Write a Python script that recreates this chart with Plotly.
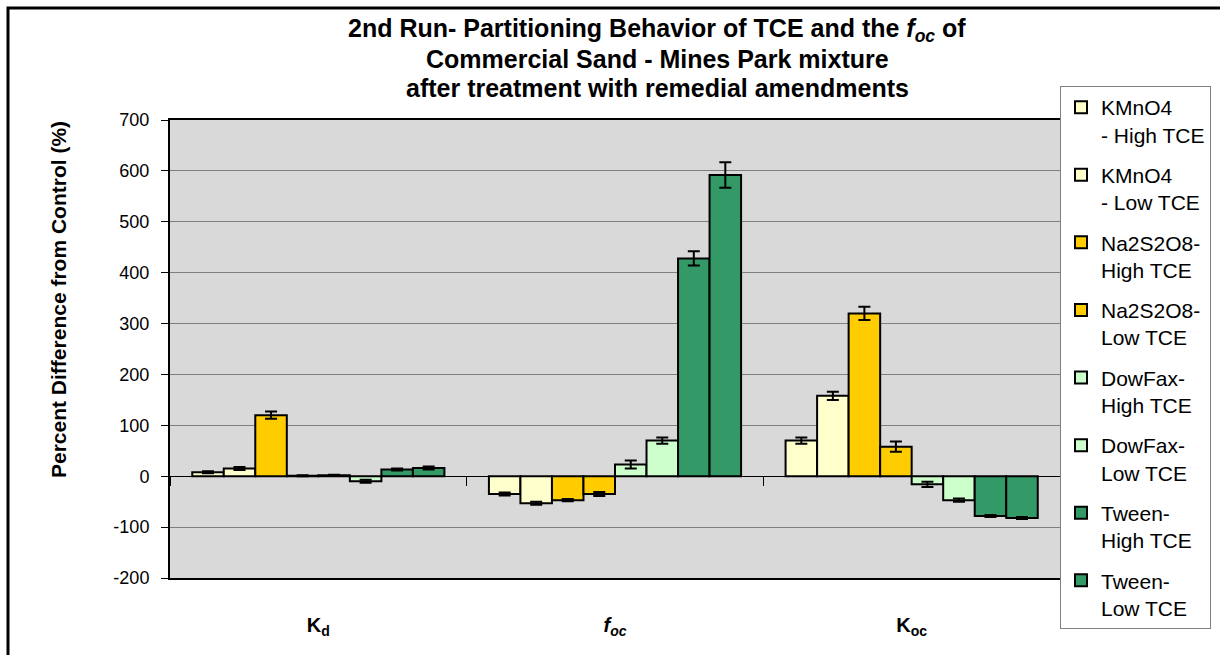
import plotly.graph_objects as go

categories = ["<b>K<sub>d</sub></b>", "<b><i>f</i><sub><i>oc</i></sub></b>", "<b>K<sub>oc</sub></b>"]
series_names = [
    "KMnO4<br>- High TCE",
    "KMnO4<br>- Low TCE",
    "Na2S2O8-<br>High TCE",
    "Na2S2O8-<br>Low TCE",
    "DowFax-<br>High TCE",
    "DowFax-<br>Low TCE",
    "Tween-<br>High TCE",
    "Tween-<br>Low TCE",
]
kmno4_high = [8, -35, 70]
kmno4_low = [15, -53, 158]
na_high = [120, -47, 320]
na_low = [1, -35, 58]
dow_high = [2, 23, -16]
dow_low = [-10, 70, -47]
tween_high = [13, 428, -78]
tween_low = [16, 592, -82]
err_kmno4_high = [2, 3, 6]
err_kmno4_low = [3, 3, 8]
err_na_high = [7, 2, 13]
err_na_low = [1, 4, 10]
err_dow_high = [1, 8, 5]
err_dow_low = [3, 6, 3]
err_tween_high = [2, 14, 2]
err_tween_low = [3, 25, 2]
y_tick_values = [-200, -100, 0, 100, 200, 300, 400, 500, 600, 700]
y_tick_labels = ["-200", "-100", "0", "100", "200", "300", "400", "500", "600", "700"]
title_lines = [
    "<b>2nd Run- Partitioning Behavior of TCE and the <i>f</i><sub><i>oc</i></sub> of</b>",
    "<b>Commercial Sand - Mines Park mixture</b>",
    "<b>after treatment with remedial amendments</b>",
]
y_title = "<b>Percent Difference from Control (%)</b>"

values = [kmno4_high, kmno4_low, na_high, na_low, dow_high, dow_low, tween_high, tween_low]
errors = [err_kmno4_high, err_kmno4_low, err_na_high, err_na_low,
          err_dow_high, err_dow_low, err_tween_high, err_tween_low]
colors = ["#FFFFCC", "#FFFFCC", "#FFCC00", "#FFCC00", "#CCFFCC", "#CCFFCC", "#339966", "#339966"]

FONT = "Liberation Sans, Arial, sans-serif"
ncat = len(categories)
xpos = list(range(ncat))

fig = go.Figure()
for i, (name, vals, errs, col) in enumerate(zip(series_names, values, errors, colors)):
    fig.add_trace(go.Bar(
        x=xpos, y=vals, name=name,
        marker=dict(color=col, line=dict(color="black", width=2)),
        error_y=dict(type="data", array=errs, visible=True, color="black", thickness=2, width=6),
        legendgroup=f"g{i}",
    ))

W, H = 1220, 655
L, R, T, B = 170, 1220 - 1060, 120, 655 - 578
pw = W - L - R
ph = H - T - B
ymin, ymax = y_tick_values[0], y_tick_values[-1]
zero_pos = (0 - ymin) / (ymax - ymin)
boundaries = [c - 0.5 for c in xpos] + [xpos[-1] + 0.5]

fig.update_layout(
    width=W, height=H,
    margin=dict(l=L, r=R, t=T, b=B, autoexpand=False),
    paper_bgcolor="white", plot_bgcolor="#D9D9D9",
    barmode="group", bargap=0.15, bargroupgap=0,
    font=dict(family=FONT, color="black", size=17),
    xaxis=dict(
        tickmode="array", tickvals=xpos, ticktext=categories,
        range=[-0.5, ncat - 0.5], ticks="", showgrid=False, zeroline=False,
        showline=True, linecolor="black", linewidth=2, mirror=True,
        tickfont=dict(size=20), ticklabelstandoff=28,
    ),
    xaxis2=dict(
        overlaying="x", anchor="free", position=zero_pos, matches="x",
        tickmode="array", tickvals=boundaries,
        ticks="outside", ticklen=9, tickcolor="black", tickwidth=1,
        showgrid=False, zeroline=False, showline=False, showticklabels=False,
        range=[-0.5, ncat - 0.5],
    ),
    yaxis=dict(
        range=[ymin, ymax], tickmode="array", tickvals=y_tick_values, ticktext=y_tick_labels,
        showgrid=True, gridcolor="#808080", gridwidth=1,
        zeroline=True, zerolinecolor="black", zerolinewidth=1,
        showline=True, linecolor="black", linewidth=2, mirror=True,
        ticks="outside", ticklen=7, tickcolor="black", tickfont=dict(size=18),
        ticklabelstandoff=8,
    ),
    legend=dict(
        xref="container", yref="container",
        x=1060 / W, xanchor="left", y=1 - 86 / H, yanchor="top",
        bgcolor="white", bordercolor="#808080", borderwidth=1,
        font=dict(size=21, family=FONT), tracegroupgap=10, traceorder="grouped",
        itemwidth=30, valign="top",
    ),
    showlegend=True,
)
try:
    fig.update_layout(legend_maxheight=640)
except Exception:
    pass

fig.add_trace(go.Scatter(x=xpos, y=[None] * ncat, xaxis="x2", showlegend=False, hoverinfo="skip"))

for k, line in enumerate(title_lines):
    yc = 30 + 29 * k
    fig.add_annotation(
        xref="paper", yref="paper", x=(657 - L) / pw, y=(H - B - yc) / ph,
        xanchor="center", yanchor="middle", showarrow=False,
        text=line, font=dict(size=25, family=FONT, color="black"),
    )

fig.add_annotation(
    xref="paper", yref="paper", x=(58 - L) / pw, y=(H - B - 300) / ph,
    xanchor="center", yanchor="middle", showarrow=False, textangle=-90,
    text=y_title, font=dict(size=21, family=FONT, color="black"),
)

fig.add_shape(type="rect", xref="paper", yref="paper",
              x0=(8 - L) / pw, x1=(W + 20 - L) / pw,
              y0=(-(20) - B) / ph, y1=(H - 8 - B) / ph,
              line=dict(color="black", width=3), fillcolor="rgba(0,0,0,0)", layer="below")

fig.write_html("out.html")
